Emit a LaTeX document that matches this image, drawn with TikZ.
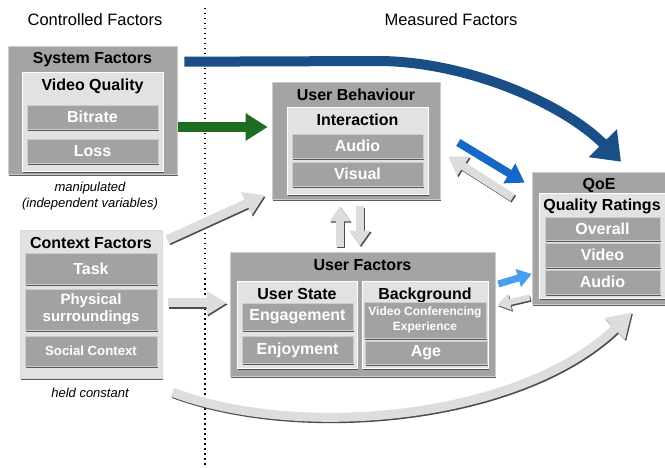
\documentclass[tikz,border=0pt]{standalone}
\usepackage{fontspec}
\setmainfont{Liberation Sans}
\usetikzlibrary{arrows.meta,shadows,calc}
\definecolor{og}{HTML}{A3A5A4}
\definecolor{il}{HTML}{E1E2E2}
\definecolor{sg}{HTML}{A1A3A2}
\definecolor{ga}{HTML}{DCDDDD}
\definecolor{darkblue}{HTML}{1A4E86}
\definecolor{midblue}{HTML}{1767C6}
\definecolor{lightblue}{HTML}{4A9EEE}
\definecolor{darkgreen}{HTML}{1E6B22}
\tikzset{
  shad/.style={drop shadow={shadow xshift=1.2pt, shadow yshift=-1.6pt, fill=black!75, opacity=0.85}},
  obox/.style={draw=black!20, line width=0.6pt, fill=og, shad, inner sep=0pt},
  ibox/.style={draw=white, line width=0.6pt, fill=il, shad, inner sep=0pt},
  sbox/.style={draw=black!20, line width=0.5pt, fill=sg, shad, inner sep=0pt, text=white, align=center,
               font=\bfseries\fontsize{16}{18}\selectfont},
  ttl/.style={font=\bfseries\fontsize{16}{18}\selectfont, inner sep=0pt},
  hdr/.style={font=\fontsize{16.5}{19}\selectfont, inner sep=0pt},
  note/.style={font=\itshape\fontsize{13}{16}\selectfont, inner sep=0pt},
  garr/.style n args={3}{line width=#1, -{Triangle[length=#3, width=#2]}},
  colarr/.style n args={4}{line width=#1, draw=#4, -{Triangle[length=#3, width=#2]}},
}
\newcommand\grayarrow[2]{%
  \draw[#1, draw=black!70, transform canvas={xshift=1.1pt, yshift=-1.4pt}] #2;
  \draw[#1, draw=ga] #2;}
\begin{document}
\begin{tikzpicture}[x=1pt,y=-1pt]
\useasboundingbox (0,0) rectangle (665,468);
\fill[white] (0,0) rectangle (665,468);

% headers
\node[hdr] (hc) at (95,20) {Controlled Factors};
\node[hdr] (hm) at (451,20) {Measured Factors};
\draw[line width=1.7pt, black, dash pattern=on 1.5pt off 3.5pt] (205,8) -- (205,466);

% System factors
\node[obox, minimum width=169pt, minimum height=128pt] (sf) at (92.5,110) {};
\node[ttl] (sft) at (92.5,60) {System Factors};
\node[ibox, minimum width=141pt, minimum height=99pt] (vq) at (92.5,121.5) {};
\node[ttl] (vqt) at (92.5,86) {Video Quality};
\node[sbox, minimum width=131pt, minimum height=24pt] (bit) at (92.5,117) {Bitrate};
\node[sbox, minimum width=131pt, minimum height=24pt] (loss) at (92.5,151) {Loss};
\node[note] (man1) at (90,188) {manipulated};
\node[note] (man2) at (90,204) {(independent variables)};

% Context factors
\node[ibox, draw=black!15, minimum width=142pt, minimum height=148pt] (cf) at (91,304) {};
\node[ttl] (cft) at (91,243) {Context Factors};
\node[sbox, minimum width=132pt, minimum height=31pt] (task) at (91,268.5) {Task};
\node[sbox, minimum width=132pt, minimum height=41pt, font=\bfseries\fontsize{15}{17}\selectfont] (phys) at (91,309.5) {Physical\\surroundings};
\node[sbox, minimum width=132pt, minimum height=30pt, font=\bfseries\fontsize{13.2}{16}\selectfont] (soc) at (91,351) {Social Context};
\node[note] (held) at (90,393) {held constant};

% User behaviour
\node[obox, minimum width=168pt, minimum height=117pt] (ub) at (356,140.5) {};
\node[ttl] (ubt) at (356,95) {User Behaviour};
\node[ibox, minimum width=141pt, minimum height=87pt] (int) at (357.5,150.5) {};
\node[ttl] (intt) at (357.5,120) {Interaction};
\node[sbox, minimum width=131pt, minimum height=24pt] (uaud) at (357.5,146) {Audio};
\node[sbox, minimum width=131pt, minimum height=24pt] (uvis) at (357.5,174) {Visual};

% User factors
\node[obox, minimum width=265pt, minimum height=124pt] (uf) at (362.5,314) {};
\node[ttl] (uft) at (362.5,265) {User Factors};
\node[ibox, minimum width=120pt, minimum height=87pt] (us) at (297,324.5) {};
\node[ttl] (ust) at (297,294) {User State};
\node[sbox, minimum width=111pt, minimum height=27pt] (eng) at (297.5,317) {Engagement};
\node[sbox, minimum width=111pt, minimum height=27pt] (enj) at (297.5,350) {Enjoyment};
\node[ibox, minimum width=126pt, minimum height=87pt] (bg) at (425,324.5) {};
\node[ttl] (bgt) at (425,295) {Background};
\node[sbox, minimum width=122pt, minimum height=36pt, font=\bfseries\fontsize{12}{14.5}\selectfont] (vce) at (425,320) {Video Conferencing\\Experience};
\node[sbox, minimum width=122pt, minimum height=23pt] (age) at (426,353) {Age};

% QoE
\node[obox, minimum width=134pt, minimum height=132pt] (qoe) at (599,238) {};
\node[ttl] (qoet) at (599,185) {QoE};
\node[ibox, minimum width=126pt, minimum height=105pt] (qr) at (602,245.5) {};
\node[ttl] (qrt) at (602,206) {Quality Ratings};
\node[sbox, minimum width=115pt, minimum height=23pt] (ov) at (602.5,228.5) {Overall};
\node[sbox, minimum width=115pt, minimum height=24pt] (qvid) at (602.5,255) {Video};
\node[sbox, minimum width=115pt, minimum height=24pt] (qaud) at (602.5,282) {Audio};

% arrows
\draw[colarr={10pt}{38pt}{26pt}{darkblue}]
  ($(sf.north east)+(7,16)$) -- (380,61) .. controls (470,62) and (565,105) .. ($(qoe.north)+(22,-10)$);
\draw[colarr={10pt}{26pt}{22pt}{darkgreen}] ($(sf.east)+(1,17)$) -- ($(ub.west)+(-4,-13.5)$);
\grayarrow{garr={9pt}{24pt}{20pt}}{($(cf.north east)+(5,10)$) -- ($(ub.south west)+(-7,-4)$)}
\grayarrow{garr={9pt}{23pt}{20pt}}{($(cf.east)+(6,-1)$) -- ($(uf.west)+(-3,-11)$)}
\grayarrow{garr={8pt}{20pt}{15pt}}{($(uf.north)+(-22.5,-5)$) -- ($(ub.south)+(-16,7)$)}
\grayarrow{garr={8pt}{20pt}{15pt}}{($(ub.south)+(4,7)$) -- ($(uf.north)+(-2.5,-6)$)}
\grayarrow{garr={8pt}{22pt}{18pt}}{($(qoe.north west)+(-19,26)$) -- ($(ub.east)+(8,16)$)}
\draw[colarr={8pt}{22pt}{18pt}{midblue}] ($(ub.east)+(18,2)$) -- ($(qoe.north west)+(-7,11)$);
\grayarrow{garr={6pt}{16pt}{13pt}}{($(qoe.south west)+(-2,-7)$) -- ($(uf.east)+(2,-9)$)}
\draw[colarr={7pt}{18pt}{14pt}{lightblue}] ($(uf.east)+(3,-30)$) -- ($(qoe.west)+(0,36)$);
\grayarrow{garr={9pt}{28pt}{24pt}}{($(cf.south east)+(10,14)$) .. controls (300,440) and (520,420) .. ($(qoe.south)+(33,8)$)}
\end{tikzpicture}
\end{document}
